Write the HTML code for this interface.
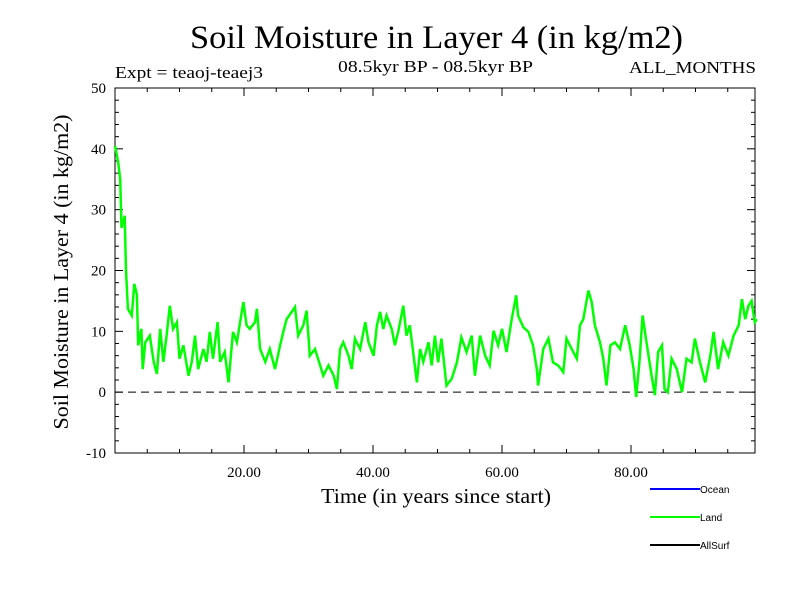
<!DOCTYPE html>
<html><head><meta charset="utf-8"><style>
body{margin:0;background:#fff}
svg{display:block}
.s{font-family:"Liberation Serif",serif;fill:#000}
.a{font-family:"Liberation Sans",sans-serif;fill:#000}
</style></head><body>
<svg id="c" width="800" height="600" xmlns="http://www.w3.org/2000/svg">
<rect width="800" height="600" fill="#fff"/>
<text class="s" x="190" y="48" font-size="33" textLength="493" lengthAdjust="spacingAndGlyphs">Soil Moisture in Layer 4 (in kg/m2)</text>
<text class="s" x="115" y="78" font-size="17" textLength="148" lengthAdjust="spacingAndGlyphs">Expt = teaoj-teaej3</text>
<text class="s" x="338" y="72" font-size="17" textLength="195" lengthAdjust="spacingAndGlyphs">08.5kyr BP - 08.5kyr BP</text>
<text class="s" x="629" y="73" font-size="17" textLength="127" lengthAdjust="spacingAndGlyphs">ALL_MONTHS</text>
<text class="s" transform="translate(68,272) rotate(-90)" font-size="21" text-anchor="middle" textLength="315" lengthAdjust="spacingAndGlyphs">Soil Moisture in Layer 4 (in kg/m2)</text>
<text class="s" x="321" y="503" font-size="21" textLength="230" lengthAdjust="spacingAndGlyphs">Time (in years since start)</text>
<g id="axes"></g>
<g id="plot"></g>
<g>
<line x1="650" y1="489" x2="700" y2="489" stroke="#0000ff" stroke-width="2"/>
<text class="a" x="700" y="493" font-size="10">Ocean</text>
<line x1="650" y1="517" x2="700" y2="517" stroke="#00ff00" stroke-width="2"/>
<text class="a" x="700" y="521" font-size="10">Land</text>
<line x1="650" y1="545" x2="700" y2="545" stroke="#000" stroke-width="2"/>
<text class="a" x="700" y="549" font-size="10">AllSurf</text>
</g>
</svg>
<script>
const years=[0,0.5,0.8,1,1.5,1.7,2,2.6,3,3.4,3.6,4.1,4.3,4.7,5.4,6,6.5,7,7.5,8,8.5,9,9.6,10,10.6,11.4,11.9,12.4,12.9,13.7,14.2,14.7,15.2,15.9,16.3,17,17.6,18.3,18.9,19.4,19.9,20.4,20.9,21.7,22,22.5,23.3,24,24.8,25.6,26.1,26.6,27.4,27.9,28.4,29.2,29.7,30.2,31,31.8,32.3,33.1,33.9,34.4,34.9,35.4,36.2,36.7,37.2,38,38.8,39.3,40.1,40.6,41.1,41.6,42.1,42.9,43.4,43.9,44.7,45.2,45.7,46.3,46.8,47.3,47.8,48.6,49.1,49.6,50.1,50.6,51.4,52.2,53,53.7,54.5,55.3,55.8,56.6,57.4,58.1,58.7,59.4,60,60.7,61.5,62.2,62.5,63.3,64.1,64.8,65.4,65.6,66.4,67.2,67.9,68.7,69.5,70,70.8,71.6,72.1,72.6,73.4,73.9,74.4,75.2,75.7,76.2,76.8,77.5,78.3,79.1,79.8,80.4,80.8,81.3,81.8,82.4,83.2,83.7,84.2,84.8,85.2,85.7,86.3,87.1,87.9,88.6,89.4,89.9,90.7,91.5,92.3,92.8,93.5,94.3,95.1,95.9,96.7,97.2,97.7,98.2,98.7,99.2,99.5];
const landValues=[40.5,37.8,35,27,29,20,13.7,12.6,17.8,16,7.7,10.4,3.8,8.2,9.3,5,3,10.4,5,9.3,14.2,10.4,11.5,5.5,7.7,2.7,5,9.3,3.8,7.1,5,9.9,5.5,11.5,5,6.6,1.6,9.9,8.2,11.5,14.8,11,10.4,11.5,13.7,7.1,5,7.1,3.8,7.7,9.9,12,13.2,14,9.3,11,13.4,6,7.1,4.4,2.7,4.4,2.7,0.5,7.1,8.2,6,3.8,8.8,7.1,11.5,8.2,6,11,13.2,10.4,12.6,10.4,7.7,9.9,14.2,9.3,11,6,1.6,7.1,5,8.2,4.4,9.3,4.9,8.8,1.1,2.2,4.9,9,6.6,9.3,2.7,9.3,6,4.4,10.1,7.7,10.4,6.6,12,15.9,12.6,10.7,9.9,7.7,3.8,1.1,7.1,8.8,4.9,4.4,3.3,8.8,7.1,5.5,11,12,16.7,14.8,11,8.2,5.5,1.1,7.7,8.2,7.1,11,7.7,3.8,-0.8,4.9,12.6,8.2,2.7,-0.5,6.6,7.7,0.5,0,5.5,3.8,0,5.5,4.9,8.8,4.9,1.6,6,9.9,3.8,8.2,6,9.3,11,15.3,12,14.2,15,11.5,12];
const yTickLabels=["-10","0","10","20","30","40","50"];
const xTickLabels=["20.00","40.00","60.00","80.00"];
const NS="http://www.w3.org/2000/svg";
const X0=115,X1=755,Y0=453,Y1=88;
function xs(t){return X0+t*6.45;}
function ys(v){return Y0-(v+10)*(Y0-Y1)/60;}
function mk(tag,attrs,parent){const e=document.createElementNS(NS,tag);for(const k in attrs)e.setAttribute(k,attrs[k]);parent.appendChild(e);return e;}
const ax=document.getElementById('axes');
const frame=mk('rect',{x:X0,y:Y1,width:X1-X0,height:Y0-Y1,fill:'none',stroke:'#000','stroke-width':1},ax);


for(let v=-10;v<=50;v+=2){const L=(v%10===0)?8:4;
 mk('line',{x1:X0,y1:ys(v),x2:X0+L,y2:ys(v),stroke:'#000'},ax);
 mk('line',{x1:X1,y1:ys(v),x2:X1-L,y2:ys(v),stroke:'#000'},ax);}
yTickLabels.forEach(s=>{const t=mk('text',{x:106,y:ys(+s)+5,'font-size':15,'text-anchor':'end',class:'s'},ax);t.textContent=s;
 
 });
for(let t=5;t<100;t+=5){const L=(t%20===0)?8:4;
 mk('line',{x1:xs(t),y1:Y0,x2:xs(t),y2:Y0-L,stroke:'#000'},ax);
 mk('line',{x1:xs(t),y1:Y1,x2:xs(t),y2:Y1+L,stroke:'#000'},ax);}
xTickLabels.forEach(s=>{const t=mk('text',{x:xs(+s),y:477,'font-size':15,'text-anchor':'middle',class:'s'},ax);t.textContent=s;
 
 });
const pl=document.getElementById('plot');
const zero=mk('line',{x1:X0,y1:ys(0),x2:X1,y2:ys(0),stroke:'#000','stroke-dasharray':'8,5'},pl);


const d=years.map((t,i)=>(i?'L':'M')+xs(t).toFixed(1)+','+ys(landValues[i]).toFixed(1)).join('');
const line=mk('path',{d:d,fill:'none',stroke:'#00ff00','stroke-width':2.5,'stroke-linejoin':'miter'},pl);


</script>
</body></html>
